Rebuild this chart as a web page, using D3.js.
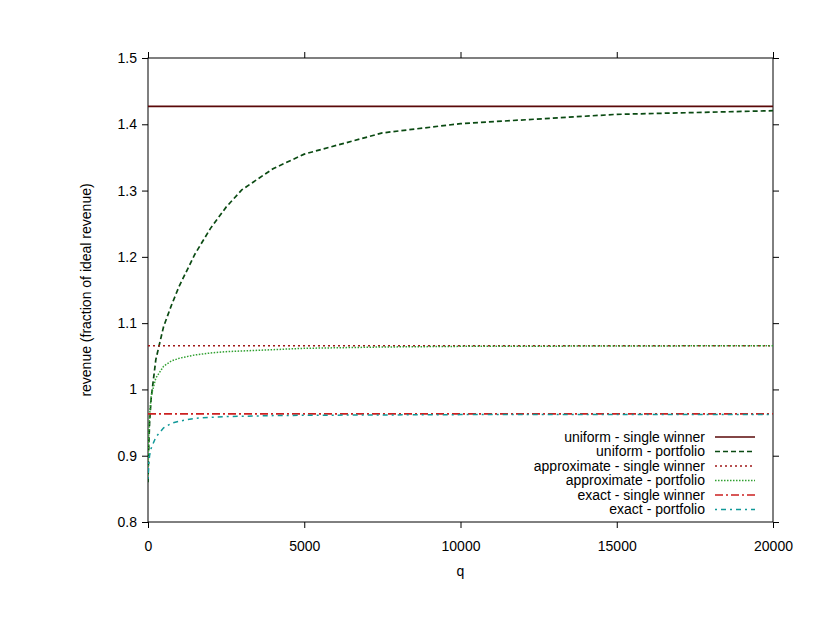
<!DOCTYPE html>
<html>
<head>
<meta charset="utf-8">
<script src="https://cdn.jsdelivr.net/npm/d3@7"></script>
<style>
  html, body { margin: 0; padding: 0; background: #fff; }
  text { font-family: "Liberation Sans", Arial, sans-serif; font-size: 14px; fill: #000; }
</style>
</head>
<body>
<svg id="chart" width="825" height="637"></svg>
<script>
// ---- data ----
const qValues = [0, 25, 50, 100, 250, 500, 750, 1000, 1500, 2000, 2500, 3000, 4000, 5000, 7500, 10000, 15000, 20000];
const uniformPortfolio = [0.86, 0.915, 0.949, 0.986, 1.045, 1.095, 1.127, 1.156, 1.204, 1.243, 1.275, 1.301, 1.333, 1.355, 1.387, 1.401, 1.415, 1.4205];
const approximatePortfolio = [0.87, 0.93, 0.96, 0.99, 1.017, 1.035, 1.043, 1.047, 1.052, 1.055, 1.057, 1.058, 1.060, 1.062, 1.064, 1.065, 1.0655, 1.066];
const exactPortfolio = [0.865, 0.888, 0.900, 0.911, 0.928, 0.942, 0.949, 0.952, 0.9565, 0.958, 0.959, 0.9595, 0.9605, 0.961, 0.9615, 0.962, 0.962, 0.962];
const singleWinnerQ = [0, 20000];
const uniformSingle = 1.427;
const approximateSingle = 1.066;
const exactSingle = 0.963;
const seriesNames = ["uniform - single winner", "uniform - portfolio", "approximate - single winner", "approximate - portfolio", "exact - single winner", "exact - portfolio"];
const xTicks = [0, 5000, 10000, 15000, 20000];
const yTicks = [0.8, 0.9, 1.0, 1.1, 1.2, 1.3, 1.4, 1.5];

// ---- layout ----
const L = 148, R = 773, T = 58, B = 522;
const FONT = '"Liberation Sans", Arial, sans-serif';
const FS = "14px";
const svg = d3.select("#chart");
const x = d3.scaleLinear().domain([0, 20000]).range([L, R]);
const y = d3.scaleLinear().domain([0.8, 1.5]).range([B, T]);

const series = [
  { name: seriesNames[0], q: singleWinnerQ, v: [uniformSingle, uniformSingle], color: "#5a0808", dash: null, w: 1.7 },
  { name: seriesNames[1], q: qValues, v: uniformPortfolio, color: "#0a4a12", dash: "5,3", w: 1.7 },
  { name: seriesNames[2], q: singleWinnerQ, v: [approximateSingle, approximateSingle], color: "#a01818", dash: "2,3", w: 1.6 },
  { name: seriesNames[3], q: qValues, v: approximatePortfolio, color: "#30a030", dash: "1.5,1.5", w: 1.5 },
  { name: seriesNames[4], q: singleWinnerQ, v: [exactSingle, exactSingle], color: "#cc2020", dash: "8,3,2,3", w: 1.7 },
  { name: seriesNames[5], q: qValues, v: exactPortfolio, color: "#109898", dash: "2,4,5,4", w: 1.5 }
];

const fmtY = d => (d === 1 ? "1" : d3.format(".1f")(d));

// axes
const gL = svg.append("g").attr("transform", `translate(${L},0)`)
  .call(d3.axisLeft(y).tickValues(yTicks).tickSize(6).tickSizeOuter(0).tickPadding(5).tickFormat(fmtY));
const gR = svg.append("g").attr("transform", `translate(${R},0)`)
  .call(d3.axisRight(y).tickValues(yTicks).tickSize(6).tickSizeOuter(0).tickFormat(""));
const gB = svg.append("g").attr("transform", `translate(0,${B})`)
  .call(d3.axisBottom(x).tickValues(xTicks).tickSize(6).tickSizeOuter(0).tickPadding(13).tickFormat(d3.format("d")));
const gT = svg.append("g").attr("transform", `translate(0,${T})`)
  .call(d3.axisTop(x).tickValues(xTicks).tickSize(6).tickSizeOuter(0).tickFormat(""));
[gL, gR, gB, gT].forEach(g => {
  g.select(".domain").remove();
  g.selectAll("line").attr("stroke", "#000").attr("stroke-width", 1);
  g.selectAll("text").style("font-family", FONT).style("font-size", FS).attr("fill", "#000");
});

// border
svg.append("rect").attr("x", L).attr("y", T).attr("width", R - L).attr("height", B - T)
  .attr("fill", "none").attr("stroke", "#000").attr("stroke-width", 1);

// lines
const line = d3.line().x(d => x(d[0])).y(d => y(d[1]));
svg.append("clipPath").attr("id", "clip").append("rect")
  .attr("x", L).attr("y", T).attr("width", R - L).attr("height", B - T);
const gLines = svg.append("g").attr("clip-path", "url(#clip)");
series.forEach(s => {
  gLines.append("path")
    .attr("d", line(s.q.map((q, i) => [q, s.v[i]])))
    .attr("fill", "none").attr("stroke", s.color).attr("stroke-width", s.w)
    .attr("stroke-dasharray", s.dash);
});

// legend
const legend = svg.append("g");
series.forEach((s, i) => {
  const yy = 437 + i * 14.5;
  legend.append("text").attr("x", 705).attr("y", yy).attr("dy", "0.35em")
    .attr("text-anchor", "end").text(s.name);
  legend.append("line").attr("x1", 715).attr("x2", 755).attr("y1", yy).attr("y2", yy)
    .attr("stroke", s.color).attr("stroke-width", s.w).attr("stroke-dasharray", s.dash);
});

// axis titles
svg.append("text").attr("x", (L + R) / 2).attr("y", 576).attr("text-anchor", "middle").text("q");
svg.append("text").attr("transform", `translate(91,${(T + B) / 2}) rotate(-90)`)
  .attr("text-anchor", "middle").text("revenue (fraction of ideal revenue)");
</script>
</body>
</html>
